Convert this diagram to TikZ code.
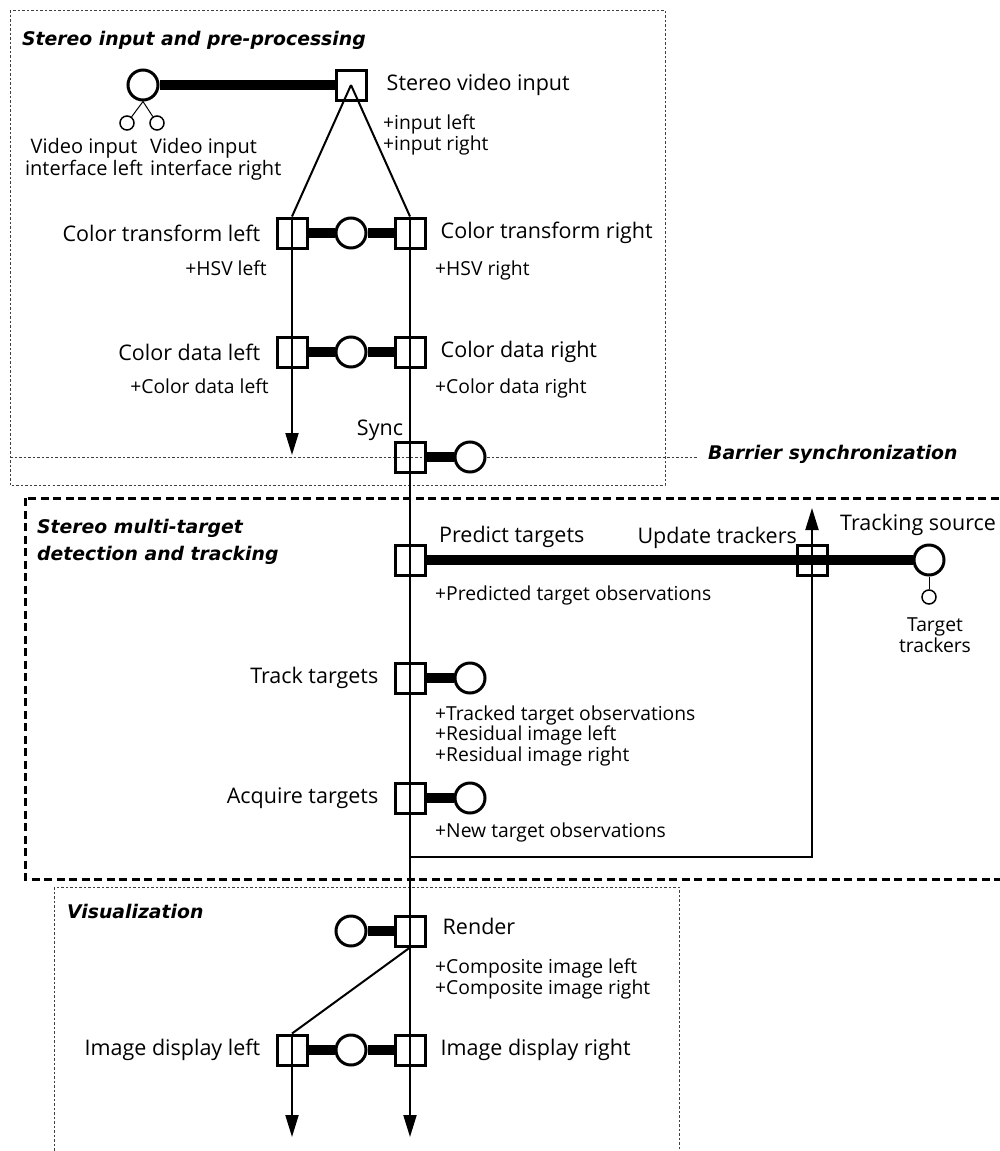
\documentclass[tikz,border=0pt]{standalone}
\usepackage{fontspec}
\setmainfont{Open Sans}
\newfontfamily\titlefont{DejaVu Sans}
\usetikzlibrary{arrows.meta,positioning}

\begin{document}
\begin{tikzpicture}[x=1pt,y=-1pt,
    port/.style={draw,line width=3pt,minimum size=30pt,inner sep=0pt},
    iface/.style={circle,draw,fill=white,line width=3pt,minimum size=30pt,inner sep=0pt},
    subiface/.style={circle,draw,fill=white,line width=1.5pt,minimum size=14pt,inner sep=0pt},
    bind/.style={line width=9.5pt},
    flow/.style={line width=2pt},
    fine/.style={line width=1pt},
    arrowed/.style={-{Triangle[length=22pt,width=13pt]}},
    lbl/.style={inner sep=0pt,font=\fontsize{21.5}{24}\selectfont},
    note/.style={inner sep=0pt,align=left,font=\fontsize{19.3}{20.5}\selectfont},
    grouptitle/.style={inner sep=0pt,align=left,font=\fontsize{18.8}{27}\titlefont\bfseries\itshape},
    dotbox/.style={line width=1pt,black!75,dash pattern=on 2.5pt off 2pt},
    dashbox/.style={line width=3pt,dash pattern=on 8pt off 4.5pt}]
    \useasboundingbox (0,0) rectangle (999,1151);

    \draw[dotbox] (10,10) rectangle (665,485);
    \draw[dashbox] (25,498) rectangle (1012,879);
    \draw[dotbox] (54,887) rectangle (679,1160);
    \node[grouptitle,anchor=base west] at (22,45) {Stereo input and pre-processing};
    \node[grouptitle,anchor=base west] at (37,560) {Stereo multi-target\\detection and tracking};
    \node[grouptitle,anchor=base west] at (67,918) {Visualization};

    \node[iface] (vin) at (143,85) {};
    \node[port] (svi) at (351,85) {};
    \node[subiface] (vinl) at (127,123) {};
    \node[subiface] (vinr) at (157,123) {};
    \draw[bind] (vin) -- (svi);
    \draw[fine] (vin.south) -- (vinl);
    \draw[fine] (vin.south) -- (vinr);
    \node[lbl,right=19pt of svi] {Stereo video input};
    \node[note,anchor=base west] at (383,150) {+input left\\+input right};
    \node[lbl,align=center,anchor=base,font=\fontsize{20}{20}\selectfont] at (84,175) {Video input\\interface left};
    \node[lbl,align=left,anchor=base west,font=\fontsize{20}{20}\selectfont] at (150,175) {Video input\\interface right};

    \foreach \n/\y/\l/\r in {ct/233/Color transform left/Color transform right,
        cd/352/Color data left/Color data right,
        id/1050/Image display left/Image display right}
    {\node[port] (\n-l) at (292,\y) {};
    \node[iface] (\n-c) at (351,\y) {};
    \node[port] (\n-r) at (410,\y) {};
    \draw[bind] (\n-l) -- (\n-c) -- (\n-r);
    \node[lbl,left=15pt of \n-l] {\l};
    \node[lbl,right=14pt of \n-r] {\r};}

    \node[note,anchor=base east] at (267,275) {+HSV left};
    \node[note,anchor=base west] at (435,275) {+HSV right};
    \node[note,anchor=base east] at (269,393) {+Color data left};
    \node[note,anchor=base west] at (435,393) {+Color data right};

    \coordinate (bar) at (10,457);
    \node[grouptitle,anchor=base west] (barrier) at (708,459) {Barrier synchronization};
    \draw[dotbox] (bar) -- ([xshift=-10pt]bar -| barrier.west);
    \node[port] (sync) at (410,457) {};
    \node[iface] (sync-c) at (470,457) {};
    \draw[bind] (sync) -- (sync-c);
    \node[lbl,anchor=base] at (380,435) {Sync};

    \node[port] (pred) at (410,560) {};
    \node[port] (upd) at (812,560) {};
    \node[iface] (tsrc) at (929,560) {};
    \node[subiface] (ttrk) at (929,597) {};
    \draw[bind] (pred) -- (tsrc);
    \draw[fine] (tsrc) -- (ttrk);
    \node[lbl,anchor=base west] at (439,542) {Predict targets};
    \node[lbl,anchor=base east] at (797,543) {Update trackers};
    \node[lbl,anchor=base west] at (840,530) {Tracking source};
    \node[note,align=center,anchor=base] at (935,652) {Target\\trackers};
    \node[note,anchor=base west] at (435,600) {+Predicted target observations};

    \foreach \n/\y/\t in {trk/678/Track targets,acq/798/Acquire targets}
    {\node[port] (\n) at (410,\y) {};
    \node[iface] (\n-c) at (470,\y) {};
    \draw[bind] (\n) -- (\n-c);
    \node[lbl,left=15pt of \n] {\t};}
    \node[note,anchor=base west] at (435,761) {+Tracked target observations\\+Residual image left\\+Residual image right};
    \node[note,anchor=base west] at (435,837) {+New target observations};

    \node[port] (rnd) at (410,931) {};
    \node[iface] (rnd-c) at (351,931) {};
    \draw[bind] (rnd-c) -- (rnd);
    \node[lbl,right=16pt of rnd,yshift=5pt] {Render};
    \node[note,anchor=base west] at (435,994) {+Composite image left\\+Composite image right};

    \coordinate (endl) at (292,455);
    \coordinate (endbl) at (292,1137);
    \coordinate (endbr) at (410,1137);
    \coordinate (fb) at (410,857);
    \coordinate (fbend) at (812,508);
    \draw[flow] (svi.center) -- (ct-l.north);
    \draw[flow] (svi.center) -- (ct-r.north);
    \draw[flow,arrowed] (ct-l.north) -- (endl);
    \draw[flow,arrowed] (ct-r.north) -- (endbr);
    \draw[flow,arrowed] (fb) -| (fbend);
    \draw[flow] (rnd.south) -- (id-l.north);
    \draw[flow,arrowed] (id-l.north) -- (endbl);
\end{tikzpicture}
\end{document}
